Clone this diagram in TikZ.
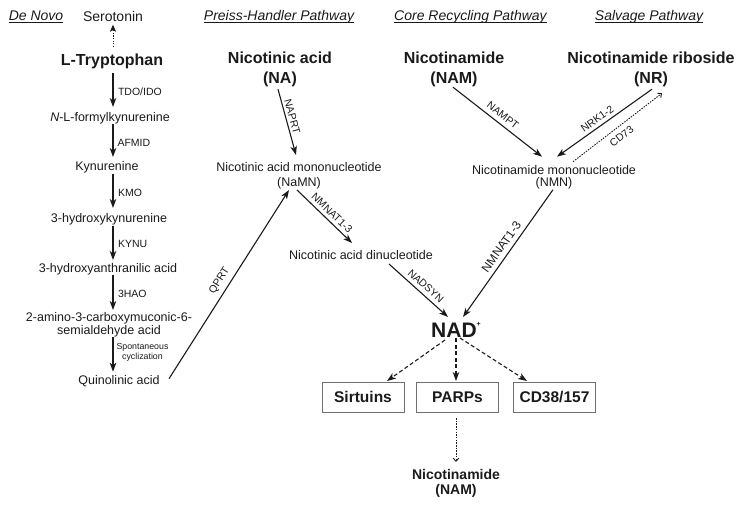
\documentclass[tikz,border=0pt]{standalone}
\usepackage{fontspec}
\setmainfont{Liberation Sans}
\usetikzlibrary{arrows.meta,calc}
\definecolor{ink}{HTML}{1A1A1A}
\definecolor{boxgray}{HTML}{707070}
\begin{document}
\begin{tikzpicture}[x=1pt,y=-1pt,
  every node/.style={text=ink, inner sep=0pt},
  cmp/.style={font=\fontsize{12.5}{15}\selectfont, align=center},
  big/.style={font=\fontsize{16}{20}\selectfont\bfseries, align=center},
  hdr/.style={anchor=base, font=\fontsize{14}{16}\selectfont\itshape},
  elab/.style={font=\fontsize{10.5}{12}\selectfont},
  arr/.style={draw=ink, line width=1.1pt, -{Stealth[length=9pt,width=6.5pt,inset=2.5pt]}},
  dasharr/.style={arr, dash pattern=on 4pt off 2.5pt},
  dotarr/.style={draw=ink, line width=0.9pt, dash pattern=on 1.5pt off 1.2pt, -{Straight Barb[length=3pt,width=5.5pt]}},
  serarr/.style={draw=ink, line width=1pt, dash pattern=on 1.3pt off 1.3pt, -{Stealth[length=7pt,width=6pt,inset=1.5pt]}},
  boxn/.style={draw=boxgray, line width=0.9pt, minimum width=82pt, minimum height=30pt, font=\fontsize{15.5}{18}\selectfont\bfseries},
]
\useasboundingbox (0,0) rectangle (745,504);

% headers
\node[hdr] (h1) at (36,20.5) {\underline{\smash{De Novo}}};
\node[hdr] (h2) at (279,20.5) {\underline{\smash{Preiss-Handler Pathway}}};
\node[hdr] (h3) at (470.5,20.5) {\underline{\smash{Core Recycling Pathway}}};
\node[hdr] (h4) at (649,20.5) {\underline{\smash{Salvage Pathway}}};

% de novo column
\node[font=\fontsize{14}{16}\selectfont] (sero) at (113,16.7) {Serotonin};
\node[big] (trp) at (112,61) {L-Tryptophan};
\node[cmp] (fk) at (110,118.5) {\textit{N}-L-formylkynurenine};
\node[cmp] (kyn) at (107,167.5) {Kynurenine};
\node[cmp] (hk) at (109,219) {3-hydroxykynurenine};
\node[cmp] (haa) at (108,269.7) {3-hydroxyanthranilic acid};
\node[cmp, font=\fontsize{12.5}{13}\selectfont] (acms) at (109,325) {2-amino-3-carboxymuconic-6-\\semialdehyde acid};
\node[cmp] (quin) at (119,380.7) {Quinolinic acid};

% other pathways
\node[big] (na) at (280,69.2) {Nicotinic acid\\(NA)};
\node[cmp] (namn) at (299,176) {Nicotinic acid mononucleotide\\(NaMN)};
\node[cmp] (naad) at (361,255.5) {Nicotinic acid dinucleotide};
\node[big] (nam) at (454,69.2) {Nicotinamide\\(NAM)};
\node[big] (nr) at (651,69.2) {Nicotinamide riboside\\(NR)};
\node[cmp, font=\fontsize{12.5}{12}\selectfont] (nmn) at (554,177.7) {Nicotinamide mononucleotide\\(NMN)};
\node[font=\fontsize{21}{24}\selectfont\bfseries] (nad) at (456,330) {NAD\raisebox{10.9pt}{\fontsize{7}{7}\selectfont +}};
\node[boxn] (sirt) at (363,397) {Sirtuins};
\node[boxn] (parp) at (457.5,397) {PARPs};
\node[boxn] (cd) at (554.5,397) {CD38/157};
\node[font=\fontsize{14}{15}\selectfont\bfseries, align=center] (bnam) at (456,482.9) {Nicotinamide\\(NAM)};

% de novo arrows
\draw[serarr] ($(trp)+(1,-14)$) -- ($(sero)+(0,8)$);
\draw[arr] ($(trp)+(1,12)$) -- node[elab, right=4.5pt, pos=0.56]{TDO/IDO} ($(fk)+(3,-11.5)$);
\draw[arr] ($(fk)+(3,5.5)$) -- node[elab, right=4pt, pos=0.58]{AFMID} ($(kyn)+(6,-10.5)$);
\draw[arr] ($(kyn)+(6,6.5)$) -- node[elab, right=4.5pt, pos=0.56]{KMO} ($(hk)+(4,-11)$);
\draw[arr] ($(hk)+(4,7)$) -- node[elab, right=4.5pt, pos=0.53]{KYNU} ($(haa)+(5,-9.7)$);
\draw[arr] ($(haa)+(5,5.3)$) -- node[elab, right=4.5pt, pos=0.54]{3HAO} ($(acms)+(4,-15)$);
\draw[arr] ($(acms)+(4,12)$) -- node[elab, font=\fontsize{8.8}{9.5}\selectfont, align=center, right=3pt, pos=0.44]{Spontaneous\\cyclization} ($(quin)+(-6,-9)$);

% Preiss-Handler
\draw[arr] ($(quin)+(50,-2)$) -- node[elab, sloped, above=4.5pt, pos=0.49]{QPRT} ($(namn)+(-10,14)$);
\draw[arr] ($(na)+(-2,20)$) -- node[elab, sloped, above=2.5pt, pos=0.44]{NAPRT} ($(namn)+(-3,-21)$);
\draw[arr] ($(namn)+(-2,14)$) -- node[elab, sloped, above=3.5pt, pos=0.54]{NMNAT1-3} ($(naad)+(-9,-12.5)$);
\draw[arr] ($(naad)+(28,8.5)$) -- node[elab, sloped, above=4pt, pos=0.53]{NADSYN} ($(nad)+(-8,-13)$);

% recycling / salvage
\draw[arr] ($(nam)+(-1,18)$) -- node[elab, sloped, above=4.5pt, pos=0.5]{NAMPT} ($(nmn)+(-12,-21)$);
\draw[arr] ($(nr)+(1,20)$) -- node[elab, sloped, above=3.5pt, pos=0.53]{NRK1-2} ($(nmn)+(3,-21)$);
\draw[dotarr] ($(nmn)+(19,-16)$) -- node[elab, sloped, below=5.5pt, pos=0.48]{CD73} ($(nr)+(11,24)$);
\draw[arr] ($(nmn)+(-1,12)$) -- node[elab, font=\fontsize{12}{14}\selectfont, sloped, above=4.5pt, pos=0.49]{NMNAT1-3} ($(nad)+(7,-13)$);

% NAD consumers
\draw[dasharr] ($(nad)+(-11,10)$) -- ($(sirt)+(24,-16)$);
\draw[dasharr] ($(nad)+(0,8)$) -- ($(parp)+(-1.5,-16)$);
\draw[dasharr] ($(nad)+(4,8)$) -- ($(cd)+(-27.5,-16)$);
\draw[dotarr] ($(parp)+(-1.5,21)$) -- ($(bnam)+(0,-21)$);
\end{tikzpicture}
\end{document}
